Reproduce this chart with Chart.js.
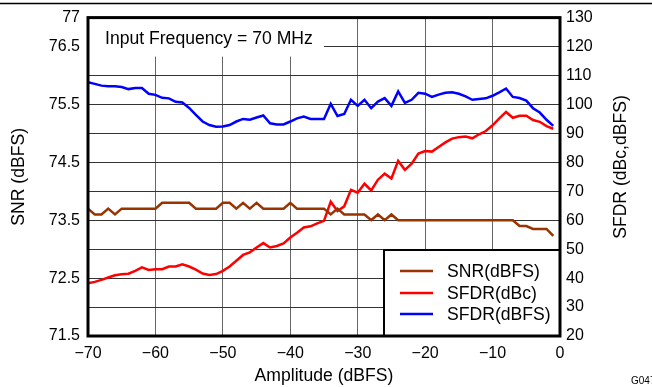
<!DOCTYPE html>
<html><head><meta charset="utf-8">
<script src="https://cdn.jsdelivr.net/npm/chart.js@4.4.0/dist/chart.umd.min.js"></script>
<style>html,body{margin:0;padding:0;background:#fff;} canvas{display:block;}</style>
</head><body>
<canvas id="c" width="652" height="387"></canvas>
<script>
const amplitude = [-70,-69,-68,-67,-66,-65,-64,-63,-62,-61,-60,-59,-58,-57,-56,-55,-54,-53,-52,-51,-50,-49,-48,-47,-46,-45,-44,-43,-42,-41,-40,-39,-38,-37,-36,-35,-34,-33,-32,-31,-30,-29,-28,-27,-26,-25,-24,-23,-22,-21,-20,-19,-18,-17,-16,-15,-14,-13,-12,-11,-10,-9,-8,-7,-6,-5,-4,-3,-2,-1];
const snrDbfs = [73.7,73.6,73.6,73.7,73.6,73.7,73.7,73.7,73.7,73.7,73.7,73.8,73.8,73.8,73.8,73.8,73.7,73.7,73.7,73.7,73.8,73.8,73.7,73.8,73.7,73.8,73.7,73.7,73.7,73.7,73.8,73.7,73.7,73.7,73.7,73.7,73.6,73.7,73.6,73.6,73.6,73.6,73.5,73.6,73.5,73.6,73.5,73.5,73.5,73.5,73.5,73.5,73.5,73.5,73.5,73.5,73.5,73.5,73.5,73.5,73.5,73.5,73.5,73.5,73.4,73.4,73.35,73.35,73.35,73.23];
const sfdrDbc = [38.2,38.7,39.4,40.2,41.0,41.3,41.5,42.5,43.7,42.8,43.1,43.1,44.0,44.0,44.8,44.0,42.9,41.6,41.1,41.4,42.5,44.0,46.0,48.0,48.9,50.6,52.1,50.6,51.1,52.0,54.0,55.7,57.5,57.9,58.9,59.8,66.4,63.2,64.8,70.5,69.5,72.6,70.3,74.0,76.1,74.4,80.5,77.4,79.5,83.0,83.9,83.7,85.3,86.9,88.2,88.7,88.9,88.3,89.7,90.8,92.8,95.2,97.4,95.4,96.1,96.1,94.6,94.0,92.5,91.6];
const sfdrDbfs = [107.7,107.1,106.5,106.3,106.3,106.0,105.3,105.7,105.7,103.7,103.3,102.3,102.1,100.9,100.7,98.8,96.4,94.1,92.9,92.3,92.4,92.9,94.1,95.0,94.7,95.5,96.2,93.5,93.1,93.1,94.1,95.2,95.8,95.0,95.0,95.0,100.2,96.0,96.7,101.6,99.5,101.6,98.7,101.0,102.2,99.5,104.5,100.5,101.6,104.0,103.7,102.6,103.4,104.0,104.2,103.7,102.8,101.6,101.9,102.1,103.0,104.2,105.5,102.6,102.2,101.3,98.7,97.2,94.7,92.6];
const snrTickLabels = ['71.5','72.5','73.5','74.5','75.5','76.5','77'];
const seriesNames = ['SNR(dBFS)','SFDR(dBc)','SFDR(dBFS)'];
const seriesColors = ['#993300','#ff0000','#0000ff'];

const FONT = '"Liberation Sans", Arial, sans-serif';

const decor = {
  id: 'decor',
  beforeDraw(chart) {
    const ctx = chart.ctx;
    ctx.save();
    ctx.fillStyle = '#fff';
    ctx.fillRect(0, 0, chart.width, chart.height);
    ctx.restore();
  },
  afterDatasetsDraw(chart) {
    const ctx = chart.ctx;
    const a = chart.chartArea;
    ctx.save();
    // annotation box
    ctx.fillStyle = '#fff';
    ctx.fillRect(a.left + 1, a.top + 1, 235, 38);
    ctx.fillStyle = '#000';
    ctx.font = '17.6px ' + FONT;
    ctx.textBaseline = 'middle';
    ctx.textAlign = 'left';
    ctx.fillText('Input Frequency = 70 MHz', 105, 39);
    // legend box
    const lx = 384, ly = 250, lw = a.right - 384, lh = a.bottom - 250;
    ctx.fillStyle = '#fff';
    ctx.fillRect(lx, ly, lw, lh);
    ctx.strokeStyle = '#000';
    ctx.lineWidth = 2;
    ctx.strokeRect(lx, ly, lw, lh);
    const rows = [271, 293, 314];
    for (let i = 0; i < seriesNames.length; i++) {
      ctx.strokeStyle = seriesColors[i];
      ctx.lineWidth = 2.5;
      ctx.beginPath();
      ctx.moveTo(400, rows[i]);
      ctx.lineTo(433, rows[i]);
      ctx.stroke();
      ctx.fillStyle = '#000';
      ctx.fillText(seriesNames[i], 447, rows[i] + 1);
    }
    // plot border
    ctx.strokeStyle = '#000';
    ctx.lineWidth = 3;
    ctx.strokeRect(a.left, a.top, a.right - a.left, a.bottom - a.top);
    // top rule
    ctx.lineWidth = 1.5;
    ctx.beginPath();
    ctx.moveTo(0, 3.5);
    ctx.lineTo(chart.width, 3.5);
    ctx.stroke();
    // right axis title
    ctx.save();
    ctx.translate(621, 167);
    ctx.rotate(-Math.PI / 2);
    ctx.textAlign = 'center';
    ctx.font = '17.6px ' + FONT;
    ctx.fillText('SFDR (dBc,dBFS)', 0, 0);
    ctx.restore();
    // figure id
    ctx.font = '10px ' + FONT;
    ctx.textAlign = 'left';
    ctx.fillText('G047', 631, 381);
    ctx.restore();
  }
};

new Chart(document.getElementById('c'), {
  type: 'line',
  data: {
    labels: amplitude,
    datasets: [
      { label: seriesNames[0], data: amplitude.map((x, i) => ({x, y: snrDbfs[i]})), borderColor: seriesColors[0], yAxisID: 'y' },
      { label: seriesNames[1], data: amplitude.map((x, i) => ({x, y: sfdrDbc[i]})), borderColor: seriesColors[1], yAxisID: 'y2' },
      { label: seriesNames[2], data: amplitude.map((x, i) => ({x, y: sfdrDbfs[i]})), borderColor: seriesColors[2], yAxisID: 'y2' }
    ]
  },
  options: {
    responsive: false,
    animation: false,
    devicePixelRatio: 1,
    layout: { padding: { top: 16, left: 0, right: 0, bottom: 0 } },
    elements: { point: { radius: 0 }, line: { borderWidth: 2.5, tension: 0 } },
    plugins: { legend: { display: false }, tooltip: { enabled: false } },
    scales: {
      x: {
        type: 'linear', min: -70, max: 0,
        ticks: { stepSize: 10, color: '#000', font: { family: FONT, size: 16 }, padding: 8, maxRotation: 0,
          callback: v => v === 0 ? '0' : '\u2212' + Math.abs(v) },
        grid: { color: '#666', lineWidth: 1, drawTicks: false },
        border: { display: false },
        title: { display: true, text: 'Amplitude (dBFS)', color: '#000', font: { family: FONT, size: 17.6 }, padding: { top: 0, bottom: 0 } },
        afterFit: s => { s.height = 51; }
      },
      y: {
        position: 'left', min: 71.5, max: 77,
        ticks: { stepSize: 0.5, color: '#000', font: { family: FONT, size: 16 }, padding: 8,
          callback: v => snrTickLabels.includes(String(v)) ? String(v) : '' },
        grid: { color: '#333', lineWidth: 1, drawTicks: false },
        border: { display: false },
        title: { display: true, text: 'SNR (dBFS)', color: '#000', font: { family: FONT, size: 17.6 }, padding: { top: 9, bottom: 0 } },
        afterFit: s => { s.width = 88; }
      },
      y2: {
        position: 'right', min: 20, max: 130,
        ticks: { stepSize: 10, color: '#000', font: { family: FONT, size: 16 }, padding: 6 },
        grid: { display: false, drawTicks: false },
        border: { display: false },
        afterFit: s => { s.width = 92; }
      }
    }
  },
  plugins: [decor]
});
</script>
</body></html>
